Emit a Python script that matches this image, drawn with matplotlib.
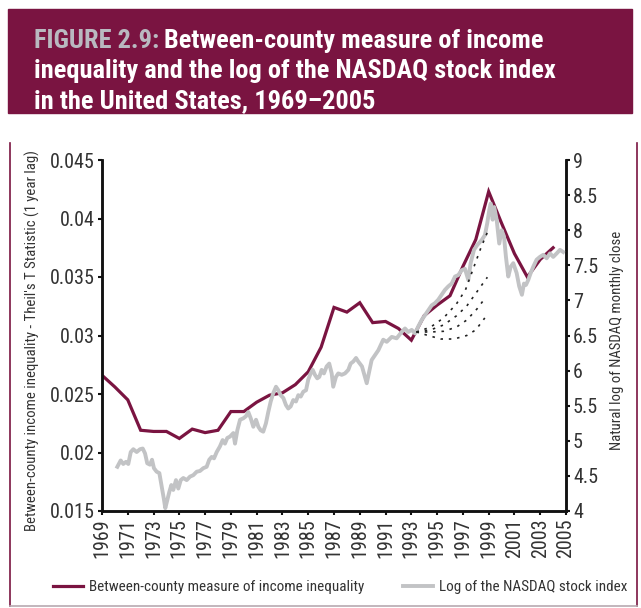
import matplotlib
matplotlib.use("Agg")
import matplotlib.pyplot as plt
from matplotlib.lines import Line2D

# Daten
ineq_years = list(range(1969, 2005))
ineq_vals = [0.0266, 0.0256, 0.0245, 0.0219, 0.0218, 0.0218, 0.0212, 0.0220,
             0.0217, 0.0219, 0.0235, 0.0235, 0.0243, 0.0249, 0.0251, 0.0258,
             0.0269, 0.0290, 0.0324, 0.0320, 0.0328, 0.0311, 0.0312, 0.0306,
             0.0296, 0.0317, 0.0326, 0.0334, 0.0359, 0.0382, 0.0423, 0.0396,
             0.0370, 0.0350, 0.0365, 0.0375]

nasdaq_t = [1970.19, 1970.45, 1970.65, 1970.86, 1971.04, 1971.23, 1971.43, 1971.69,
            1971.95, 1972.16, 1972.34, 1972.51, 1972.72, 1972.88, 1973.03, 1973.24,
            1973.45, 1973.63, 1973.81, 1973.91, 1974.07, 1974.22, 1974.38, 1974.53,
            1974.74, 1974.92, 1975.11, 1975.31, 1975.57, 1975.83, 1976.08, 1976.35,
            1976.60, 1976.86, 1977.12, 1977.32, 1977.51, 1977.69, 1977.90, 1978.15,
            1978.36, 1978.54, 1978.72, 1978.93, 1979.19, 1979.32, 1979.50, 1979.71,
            1979.96, 1980.17, 1980.35, 1980.54, 1980.74, 1980.95, 1981.13, 1981.31,
            1981.51, 1981.72, 1981.90, 1982.09, 1982.29, 1982.50, 1982.68, 1982.86,
            1983.07, 1983.27, 1983.45, 1983.64, 1983.84, 1984.05, 1984.23, 1984.42,
            1984.62, 1984.83, 1985.00, 1985.19, 1985.35, 1985.52, 1985.70, 1985.86,
            1986.04, 1986.22, 1986.43, 1986.63, 1986.82, 1986.94, 1987.15, 1987.33,
            1987.60, 1987.85, 1988.11, 1988.29, 1988.50, 1988.71, 1988.88, 1989.17,
            1989.54, 1989.92, 1990.44, 1990.82, 1991.09, 1991.48, 1991.86, 1992.25,
            1992.51, 1992.76, 1993.03, 1993.28, 1993.54, 1993.80, 1994.06, 1994.31,
            1994.58, 1994.83, 1995.09, 1995.35, 1995.61, 1995.87, 1996.13, 1996.39,
            1996.64, 1996.91, 1997.16, 1997.42, 1997.60, 1997.86, 1998.12, 1998.46,
            1998.71, 1998.89, 1999.05, 1999.16, 1999.31, 1999.43, 1999.62, 1999.82,
            2000.01, 2000.19, 2000.34, 2000.52, 2000.71, 2000.91, 2001.17, 2001.37,
            2001.58, 2001.74, 2001.89, 2002.07, 2002.26, 2002.46, 2002.72, 2002.98,
            2003.24, 2003.50, 2003.76, 2004.01, 2004.28, 2004.53, 2004.78]
nasdaq_v = [4.63, 4.72, 4.67, 4.70, 4.67, 4.84, 4.88, 4.84,
            4.88, 4.89, 4.82, 4.68, 4.66, 4.73, 4.61, 4.56,
            4.54, 4.35, 4.16, 4.04, 4.16, 4.27, 4.37, 4.30,
            4.44, 4.32, 4.44, 4.47, 4.44, 4.49, 4.51, 4.56,
            4.57, 4.61, 4.63, 4.73, 4.77, 4.75, 4.84, 4.92,
            5.01, 4.96, 5.04, 5.06, 5.11, 4.96, 5.15, 5.30,
            5.32, 5.35, 5.41, 5.32, 5.20, 5.30, 5.20, 5.15,
            5.13, 5.25, 5.41, 5.56, 5.68, 5.77, 5.72, 5.65,
            5.61, 5.51, 5.46, 5.49, 5.58, 5.56, 5.65, 5.63,
            5.70, 5.72, 5.87, 5.96, 6.01, 5.94, 5.89, 5.91,
            6.01, 5.96, 6.06, 6.10, 5.96, 5.77, 5.91, 5.96,
            5.94, 5.96, 6.01, 6.10, 6.13, 6.18, 6.13, 6.06,
            5.82, 6.15, 6.29, 6.44, 6.41, 6.48, 6.46, 6.55,
            6.60, 6.55, 6.58, 6.53, 6.63, 6.72, 6.79, 6.86,
            6.93, 6.96, 7.01, 7.08, 7.15, 7.20, 7.24, 7.34,
            7.36, 7.43, 7.45, 7.29, 7.53, 7.72, 7.79, 7.86,
            7.93, 8.10, 8.29, 8.38, 8.15, 8.33, 8.15, 7.81,
            8.00, 7.91, 7.62, 7.34, 7.48, 7.53, 7.39, 7.20,
            7.08, 7.24, 7.22, 7.29, 7.39, 7.48, 7.58, 7.62,
            7.65, 7.60, 7.67, 7.62, 7.67, 7.72, 7.69]

# gepunktete Verlaeufe ab 1993 (rechte Achse)
dot_t = [[1993.4, 1994.5, 1995.5, 1996.5, 1997.2, 1997.8, 1998.4, 1998.9],
         [1993.4, 1994.5, 1995.5, 1996.5, 1997.3, 1998.0, 1998.9],
         [1993.4, 1994.5, 1995.5, 1996.5, 1997.3, 1998.1, 1998.8],
         [1993.4, 1994.3, 1995.3, 1996.3, 1997.3, 1998.0, 1998.7]]
dot_v = [[6.55, 6.62, 6.75, 6.95, 7.15, 7.45, 7.75, 7.97],
         [6.55, 6.58, 6.65, 6.78, 6.92, 7.10, 7.33],
         [6.55, 6.55, 6.56, 6.62, 6.72, 6.88, 7.05],
         [6.55, 6.50, 6.45, 6.45, 6.50, 6.58, 6.75]]

x_ticks = list(range(1969, 2006, 2))
left_ticks = [0.015, 0.02, 0.025, 0.03, 0.035, 0.04, 0.045]
left_labels = ['0.015', '0.02', '0.025', '0.03', '0.035', '0.04', '0.045']
right_ticks = [4, 4.5, 5, 5.5, 6, 6.5, 7, 7.5, 8, 8.5, 9]
right_labels = ['4', '4.5', '5', '5.5', '6', '6.5', '7', '7.5', '8', '8.5', '9']

maroon = '#7a1441'
grey = '#c2c3c5'
txt = '#333333'

plt.rcParams['font.family'] = ['Roboto Condensed', 'Roboto', 'DejaVu Sans']

fig = plt.figure(figsize=(6.41, 6.08), dpi=100)
W, H = 641, 608

# Titelband
fig.patches.append(plt.Rectangle((8 / W, 1 - 113 / H), 624 / W, 104 / H,
                                 transform=fig.transFigure, color=maroon, zorder=0))
tsize = 19
t1 = fig.text(34 / W, 1 - 41 / H, 'FIGURE 2.9:', color='#b9b9c0', fontsize=tsize,
              fontweight='bold', va='center')
fig.canvas.draw()
bb = t1.get_window_extent(fig.canvas.get_renderer())
fig.text(bb.x1 / W + 5 / W, 1 - 41 / H, 'Between-county measure of income',
         color='white', fontsize=tsize, fontweight='bold', va='center')
fig.text(34 / W, 1 - 71 / H, 'inequality and the log of the NASDAQ stock index',
         color='white', fontsize=tsize, fontweight='bold', va='center')
fig.text(34 / W, 1 - 101 / H, 'in the United States, 1969\u20132005',
         color='white', fontsize=tsize, fontweight='bold', va='center')

# Rahmen
fig.add_artist(Line2D([10 / W, 10 / W], [1 - 143 / H, 1 - 606 / H],
                      transform=fig.transFigure, color=maroon, lw=1.2))
fig.add_artist(Line2D([637 / W, 637 / W], [1 - 143 / H, 1 - 606 / H],
                      transform=fig.transFigure, color=maroon, lw=1.2))
fig.add_artist(Line2D([10 / W, 637 / W], [1 - 606 / H, 1 - 606 / H],
                      transform=fig.transFigure, color='#b8a9b0', lw=1.2))

ax = fig.add_axes([102 / W, 1 - 511 / H, 464 / W, 351 / H])
ax2 = ax.twinx()

l1, = ax.plot(ineq_years, ineq_vals, color=maroon, lw=2.3, solid_joinstyle='miter')
l2, = ax2.plot(nasdaq_t, nasdaq_v, color=grey, lw=2.8, solid_joinstyle='round')
for tt, vv in zip(dot_t, dot_v):
    ax2.plot(tt, vv, color='#222222', lw=1.2, ls=(0, (1.5, 3.5)), zorder=5)

ax.set_xlim(1969, 2005)
ax.set_ylim(0.015, 0.045)
ax2.set_ylim(4, 9)

ax.set_xticks(x_ticks)
ax.set_xticklabels([str(y) for y in x_ticks], rotation=90, fontsize=14.5, color=txt)
ax.set_yticks(left_ticks)
ax.set_yticklabels(left_labels, fontsize=14.5, color=txt)
ax2.set_yticks(right_ticks)
ax2.set_yticklabels(right_labels, fontsize=14.5, color=txt)

for a in (ax, ax2):
    a.spines['top'].set_visible(False)
    for s in ('left', 'right', 'bottom'):
        a.spines[s].set_linewidth(1.8)
        a.spines[s].set_color('#111111')
    a.tick_params(length=3, width=1.5, color='#111111', pad=2)

ax.set_ylabel("Between-county income inequality - Theil's T Statistic (1 year lag)",
              fontsize=10.6, color=txt)
ax.yaxis.set_label_coords(-0.134, 0.485)
ax2.set_ylabel('Natural log of NASDAQ monthly close', fontsize=10.6, color=txt)
ax2.yaxis.set_label_coords(1.095, 0.487)

fig.legend([l1, l2], ['Between-county measure of income inequality',
                      'Log of the NASDAQ stock index'],
           loc='center', bbox_to_anchor=(340 / W, 1 - 587 / H), ncol=2,
           frameon=False, fontsize=10.9, handlelength=2.0, columnspacing=2.6,
           handletextpad=0.35, labelcolor=txt)

fig.savefig('out.png', dpi=100)
